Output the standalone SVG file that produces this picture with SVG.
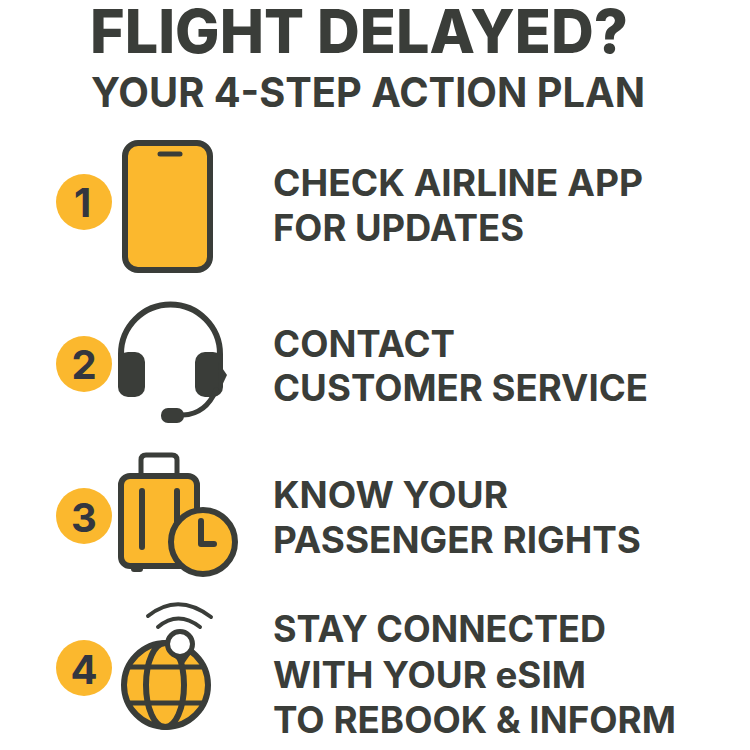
<svg xmlns="http://www.w3.org/2000/svg" width="750" height="750" viewBox="0 0 750 750">
<style>
text{font-family:Inter,"Liberation Sans",sans-serif;fill:#3a3d39}
.t{font-size:60.500px;font-weight:800}
.s{font-size:41px;font-weight:700}
.l{font-size:36.500px;font-weight:650}
.n{font-size:40px;font-weight:700;text-anchor:middle;fill:#33363f}
.b{fill:#fbb82e}
.d{fill:#3a3d39}
.k{fill:none;stroke:#3a3d39;stroke-width:6;stroke-linecap:round;stroke-linejoin:round}
.k5{fill:none;stroke:#3a3d39;stroke-width:5;stroke-linecap:round;stroke-linejoin:round}
.k4{fill:none;stroke:#3a3d39;stroke-width:4;stroke-linecap:round;stroke-linejoin:round}
.y{fill:#fbb82e;stroke:#3a3d39;stroke-width:6;stroke-linejoin:round}
</style>
<rect width="750" height="750" fill="#ffffff"/>
<g id="title">
<text class="t" x="90" y="53" textLength="538" lengthAdjust="spacingAndGlyphs">FLIGHT DELAYED?</text>
<text class="s" x="91" y="107" textLength="554" lengthAdjust="spacingAndGlyphs">YOUR 4-STEP ACTION PLAN</text>
</g>
<g id="step1">
<circle class="b" cx="84" cy="202" r="28"/>
<text class="n" x="82.500" y="217">1</text>
<rect class="y" x="125" y="143" width="85" height="127" rx="13"/>
<path class="k5" d="M160 154H180"/>
<text class="l" x="273" y="196" textLength="370" lengthAdjust="spacingAndGlyphs">CHECK AIRLINE APP</text>
<text class="l" x="273" y="241" textLength="251" lengthAdjust="spacingAndGlyphs">FOR UPDATES</text>
</g>
<g id="step2">
<circle class="b" cx="84" cy="364" r="28"/>
<text class="n" x="84" y="379">2</text>
<path class="k" d="M121 362V354A49.500 49.500 0 0 1 220 354V372"/>
<rect class="d" x="118" y="352" width="27" height="45" rx="10"/>
<rect class="d" x="195" y="352" width="28" height="45" rx="10"/>
<path class="d" d="M218 362L227 375L219 392Z"/>
<path class="k5" d="M216 390Q206 414 183 415"/>
<rect class="d" x="161" y="408" width="23" height="15" rx="7"/>
<text class="l" x="273" y="357" textLength="182" lengthAdjust="spacingAndGlyphs">CONTACT</text>
<text class="l" x="273" y="401" textLength="375" lengthAdjust="spacingAndGlyphs">CUSTOMER SERVICE</text>
</g>
<g id="step3">
<circle class="b" cx="84" cy="516" r="28"/>
<text class="n" x="84" y="532">3</text>
<path class="k5" d="M141 473V460Q141 455 146 455H172Q177 455 177 460V473"/>
<path class="d" d="M131 564H143V569Q143 572 140 572H134Q131 572 131 569Z"/>
<rect class="y" x="121" y="476" width="76" height="90" rx="9"/>
<path class="k" d="M142 491V547M177 491V525"/>
<circle class="y" cx="203" cy="542" r="32"/>
<path class="k" d="M201 521V544H214"/>
<text class="l" x="273" y="508" textLength="235" lengthAdjust="spacingAndGlyphs">KNOW YOUR</text>
<text class="l" x="273" y="553" textLength="368" lengthAdjust="spacingAndGlyphs">PASSENGER RIGHTS</text>
</g>
<g id="step4">
<circle class="b" cx="84" cy="668" r="28"/>
<text class="n" x="84" y="684">4</text>
<path class="k4" d="M148 616Q178 592 211 617M158 627Q178 610 200 627"/>
<circle class="y" cx="166" cy="685" r="42"/>
<ellipse cx="165" cy="685" rx="19" ry="42" fill="none" stroke="#3a3d39" stroke-width="6"/>
<path d="M127 667H205M127 703H205" fill="none" stroke="#3a3d39" stroke-width="5"/>
<path class="d" d="M168 652L192 652L183 665Z"/>
<circle cx="180" cy="644" r="12.500" fill="#ffffff" stroke="#3a3d39" stroke-width="5"/>
<text class="l" x="273" y="642" textLength="333" lengthAdjust="spacingAndGlyphs">STAY CONNECTED</text>
<text class="l" x="273" y="688" textLength="313" lengthAdjust="spacingAndGlyphs">WITH YOUR eSIM</text>
<text class="l" x="273" y="733" textLength="403" lengthAdjust="spacingAndGlyphs">TO REBOOK &amp; INFORM</text>
</g>
</svg>
